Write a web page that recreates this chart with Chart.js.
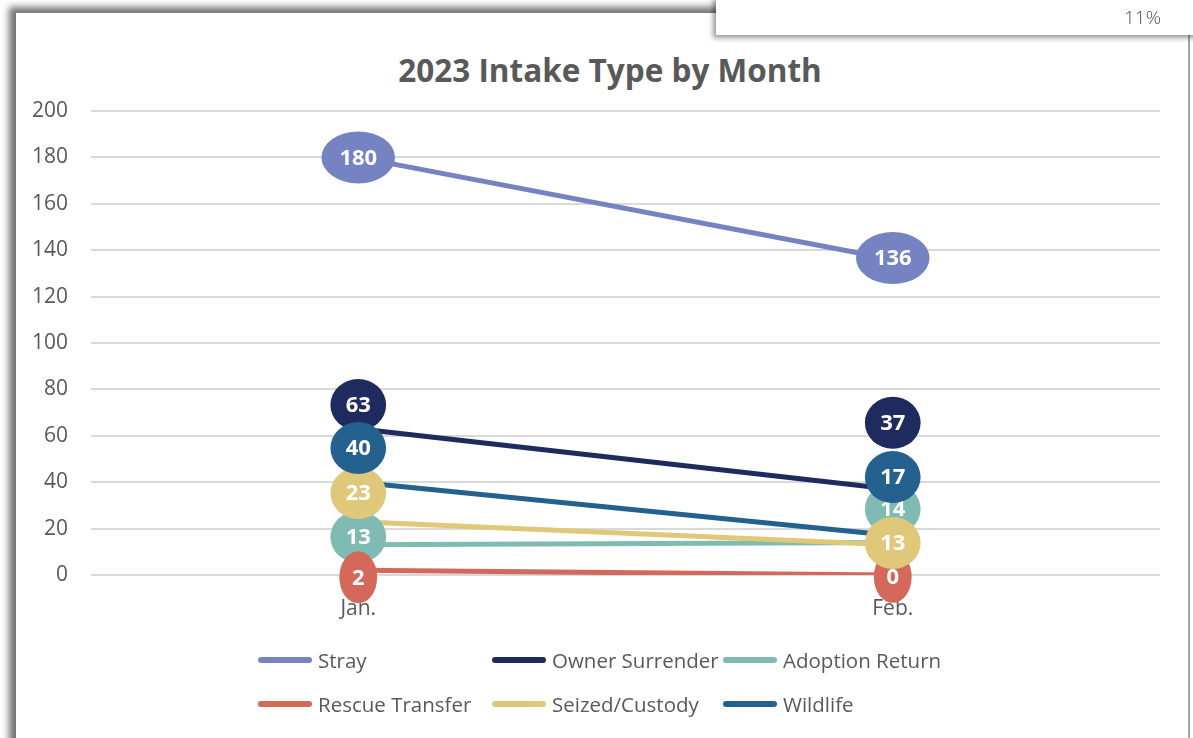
<!DOCTYPE html>
<html>
<head>
<meta charset="utf-8">
<script src="https://cdn.jsdelivr.net/npm/chart.js@4"></script>
<style>
	html, body { margin: 0; padding: 0; width: 1193px; height: 738px; overflow: hidden; background: #fff; font-family: "Open Sans", sans-serif; }
	#frame { position: absolute; left: 16px; top: 13px; width: 1172px; height: 760px; background: #fff; border-right: 2px solid #a6a6a6; box-shadow: -8px -7px 7px -1px rgba(0,0,0,0.55); }
	#chartBox { position: absolute; left: 0; top: 0; width: 1193px; height: 738px; }
	#title { position: absolute; left: 310px; width: 600px; top: 51px; text-align: center; font-size: 31.5px; line-height: 38px; font-weight: bold; color: #595959; }
	#legend { position: absolute; left: 0; top: 0; }
	.item { position: absolute; height: 26px; }
	.swatch { position: absolute; left: 0; top: 10px; width: 54px; height: 6px; border-radius: 3px; }
	.name { position: absolute; left: 60px; top: 0; font-size: 20.5px; line-height: 26px; color: #595959; white-space: nowrap; }
	#pct { position: absolute; left: 716px; top: -4px; width: 490px; height: 39px; background: #fff; box-shadow: -3px 3px 5px rgba(0,0,0,0.4); }
	#pct span { position: absolute; right: 45px; top: 8px; font-size: 19px; color: #505050; font-weight: 300; }
</style>
</head>
<body>
<div id="frame"></div>
<div id="title">2023 Intake Type by Month</div>
<div id="chartBox"><canvas id="chart" width="1193" height="738"></canvas></div>
<div id="legend"></div>
<div id="pct"><span>11%</span></div>
<script>
const months = ["Jan.", "Feb."]
const seriesNames = ["Stray", "Owner Surrender", "Adoption Return", "Rescue Transfer", "Seized/Custody", "Wildlife"]
const stray = [180, 136]
const ownerSurrender = [63, 37]
const adoptionReturn = [13, 14]
const rescueTransfer = [2, 0]
const seizedCustody = [23, 13]
const wildlife = [40, 17]
const yTickValues = [0, 20, 40, 60, 80, 100, 120, 140, 160, 180, 200]

// where each value bubble sits (value units), as placed in the picture
const labelAt = {
	"Stray": [180, 136.6],
	"Owner Surrender": [73.3, 65.6],
	"Adoption Return": [16.4, 28.4],
	"Rescue Transfer": [-1, -0.8],
	"Seized/Custody": [35.3, 13.8],
	"Wildlife": [54.7, 42.2],
}

const colors = ["#7683c2", "#1f2a5f", "#7fbbb3", "#d4695b", "#e0c87a", "#25618f"]
const values = [stray, ownerSurrender, adoptionReturn, rescueTransfer, seizedCustody, wildlife]

const bubbleLabels = {
	id: "bubbleLabels",
	afterDraw(chart) {
		const ctx = chart.ctx
		const xs = chart.scales.x
		const ys = chart.scales.y
		ctx.save()
		ctx.font = "bold 22px 'Open Sans'"
		ctx.textAlign = "center"
		ctx.textBaseline = "middle"
		chart.data.datasets.forEach(ds => {
			ds.data.forEach((v, i) => {
				const cx = xs.getPixelForValue(i)
				const cy = ys.getPixelForValue(labelAt[ds.label][i])
				const text = String(v)
				const rx = ctx.measureText(text).width * 0.71 + 10
				ctx.fillStyle = ds.borderColor
				ctx.beginPath()
				ctx.ellipse(cx, cy, rx, 26, 0, 0, Math.PI * 2)
				ctx.fill()
				ctx.fillStyle = "#ffffff"
				ctx.fillText(text, cx, cy + 1)
			})
		})
		ctx.restore()
	}
}

function buildLegend() {
	const el = document.getElementById("legend")
	const cols = [258, 492, 723]
	const rows = [647, 691]
	seriesNames.forEach((name, i) => {
		const item = document.createElement("div")
		item.className = "item"
		item.style.left = cols[i % 3] + "px"
		item.style.top = rows[Math.floor(i / 3)] + "px"
		item.innerHTML = '<div class="swatch" style="background:' + colors[i] + '"></div><div class="name">' + name + "</div>"
		el.appendChild(item)
	})
}

function draw() {
	buildLegend()
	new Chart(document.getElementById("chart"), {
		type: "line",
		data: {
			labels: months,
			datasets: seriesNames.map((name, i) => ({
				label: name,
				data: values[i],
				borderColor: colors[i],
				backgroundColor: colors[i],
				borderWidth: 5,
				pointRadius: 0,
				tension: 0,
				order: 6 - i,
			})),
		},
		options: {
			responsive: false,
			animation: false,
			layout: { padding: { left: 0, right: 33, top: 111, bottom: 0 } },
			plugins: {
				legend: { display: false },
				tooltip: { enabled: false },
				title: { display: false },
			},
			scales: {
				x: {
					offset: true,
					grid: { display: false },
					border: { display: false },
					ticks: { color: "#595959", font: { family: "'Open Sans'", size: 21 }, padding: 13 },
					afterFit: s => { s.height = 163 },
				},
				y: {
					min: 0,
					max: 200,
					afterBuildTicks: s => { s.ticks = yTickValues.map(v => ({ value: v })) },
					grid: { color: "#d9d9d9", lineWidth: 2, drawTicks: false },
					border: { display: false },
					ticks: { color: "#595959", font: { family: "'Open Sans'", size: 21 }, padding: 23 },
					afterFit: s => { s.width = 91 },
				},
			},
		},
		plugins: [bubbleLabels],
	})
}

Promise.all([
	document.fonts.load("21px 'Open Sans'"),
	document.fonts.load("bold 22px 'Open Sans'"),
]).then(draw, draw)
</script>
</body>
</html>
